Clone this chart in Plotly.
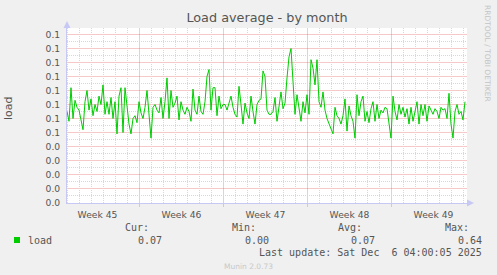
import pandas as pd
import plotly.graph_objects as go

# ---- data (load average, ~4h samples) ----
load_values = [
    0.065, 0.058, 0.082, 0.060, 0.073, 0.068, 0.066, 0.060, 0.052, 0.072,
    0.080, 0.066, 0.074, 0.062, 0.070, 0.065, 0.076, 0.070, 0.084, 0.063,
    0.072, 0.063, 0.075, 0.060, 0.072, 0.049, 0.076, 0.082, 0.050, 0.082,
    0.070, 0.056, 0.049, 0.060, 0.062, 0.057, 0.072, 0.064, 0.060, 0.068,
    0.080, 0.064, 0.046, 0.068, 0.070, 0.066, 0.064, 0.075, 0.060, 0.072,
    0.089, 0.060, 0.080, 0.068, 0.071, 0.076, 0.059, 0.072, 0.066, 0.063,
    0.068, 0.065, 0.058, 0.081, 0.066, 0.063, 0.076, 0.065, 0.063, 0.072,
    0.090, 0.095, 0.066, 0.082, 0.082, 0.062, 0.076, 0.067, 0.070, 0.070,
    0.066, 0.071, 0.076, 0.068, 0.063, 0.061, 0.083, 0.070, 0.056, 0.071,
    0.064, 0.060, 0.076, 0.065, 0.056, 0.070, 0.073, 0.074, 0.094, 0.090,
    0.066, 0.063, 0.063, 0.065, 0.075, 0.058, 0.070, 0.079, 0.067, 0.071,
    0.089, 0.104, 0.110, 0.084, 0.063, 0.077, 0.068, 0.058, 0.072, 0.064,
    0.077, 0.063, 0.102, 0.096, 0.084, 0.102, 0.072, 0.068, 0.079, 0.066,
    0.060, 0.056, 0.052, 0.049, 0.068, 0.062, 0.060, 0.056, 0.062, 0.074,
    0.051, 0.069, 0.062, 0.058, 0.046, 0.077, 0.062, 0.072, 0.076, 0.058,
    0.065, 0.057, 0.067, 0.072, 0.058, 0.070, 0.060, 0.066, 0.064, 0.068,
    0.067, 0.056, 0.046, 0.076, 0.065, 0.059, 0.070, 0.063, 0.068, 0.061,
    0.067, 0.056, 0.068, 0.058, 0.066, 0.072, 0.056, 0.070, 0.062, 0.070,
    0.058, 0.069, 0.066, 0.063, 0.067, 0.065, 0.060, 0.068, 0.066, 0.067,
    0.060, 0.078, 0.056, 0.046, 0.065, 0.070, 0.063, 0.065, 0.059, 0.072,
]
range_start = "2025-11-03 23:00"
range_end = "2025-12-07 07:00"
times = pd.date_range(range_start, "2025-12-07 03:00", periods=len(load_values))

y_tickvals = [0.00, 0.01, 0.02, 0.03, 0.04, 0.05, 0.06, 0.07, 0.08, 0.09, 0.10, 0.11, 0.12]
y_ticktext = ["0.0", "0.0", "0.0", "0.0", "0.0", "0.1", "0.1", "0.1", "0.1", "0.1", "0.1", "0.1", "0.1"]
y_range = [-0.5 / 1400, 0.125 - 0.5 / 1400]

series_name = "load"
stat_labels = ["Cur:", "Min:", "Avg:", "Max:"]
stat_values = ["0.07", "0.00", "0.07", "0.64"]
last_update = "Last update: Sat Dec\u00a0 6 04:00:05 2025"

# ---- layout geometry (pixels) ----
W, H = 497, 275
L, R, T, B = 67, 30, 28, 72
PW, PH = W - L - R, H - T - B


def px(x):
    return (x - L) / PW


def py(y):
    return (H - B - y) / PH


TEXT = "#555555"
AXIS = "#c8c8f4"
MAJ = "rgba(230,100,100,0.35)"
MIN = "#d8d8d8"
DASH = "1px,1px"
GREEN = "#00cc00"
MONO = "DejaVu Sans Mono"
SANS = "DejaVu Sans"

# minor grid positions: days that are not week starts, half steps on y
days = pd.date_range("2025-11-04", "2025-12-07", freq="D")
minor_days = [d for d in days if d.dayofweek != 0]
minor_y = [round(v + 0.005, 4) for v in y_tickvals]

# minor grid as dotted segments (drawn under the data line)
gx, gy = [], []
for d in minor_days:
    gx += [d, d, None]
    gy += [y_range[0], y_range[1], None]
for v in minor_y:
    gx += [range_start, range_end, None]
    gy += [v, v, None]

fig = go.Figure()
fig.add_trace(go.Scatter(x=gx, y=gy, mode="lines", connectgaps=False,
                         line=dict(color=MIN, width=1, dash=DASH),
                         showlegend=False, hoverinfo="skip", cliponaxis=True))
fig.add_trace(go.Scatter(x=times, y=load_values, mode="lines",
                         line=dict(color=GREEN, width=1), showlegend=False,
                         hoverinfo="skip"))

fig.update_layout(
    width=W, height=H,
    margin=dict(l=L, r=R, t=T, b=B),
    paper_bgcolor="#f0f0f0", plot_bgcolor="#ffffff",
    title=dict(text="Load average - by month", x=0.5, xref="paper", y=1 - 18 / H,
               yref="container", xanchor="center", yanchor="middle",
               font=dict(family=SANS, size=12.8, color=TEXT)),
    showlegend=False,
    xaxis=dict(
        type="date", range=[range_start, range_end],
        tick0="2025-11-03", dtick=7 * 86400000,
        ticklabelmode="period", tickformat="Week %V",
        tickfont=dict(family=SANS, size=9.2, color=TEXT),
        showgrid=True, gridcolor=MAJ, griddash="solid", gridwidth=1,
        ticks="outside", ticklen=3, tickcolor=MAJ,
        showline=True, linecolor=AXIS, linewidth=1, zeroline=False,
    ),
    yaxis=dict(
        range=y_range, tickmode="array", tickvals=y_tickvals, ticktext=y_ticktext,
        tickfont=dict(family=SANS, size=9.2, color=TEXT),
        showgrid=True, gridcolor=MAJ, griddash="solid", gridwidth=1,
        ticks="", ticklabelstandoff=4,
        showline=True, linecolor=AXIS, linewidth=1, zeroline=False,
    ),
)

ann = []
# y-axis title
ann.append(dict(text="load", x=px(8), y=py(108), xref="paper", yref="paper",
                textangle=-90, showarrow=False, xanchor="center", yanchor="middle",
                font=dict(family=SANS, size=11, color=TEXT)))
# watermark
ann.append(dict(text="RRDTOOL / TOBI OETIKER", x=px(488), y=py(53), xref="paper", yref="paper",
                textangle=90, showarrow=False, xanchor="center", yanchor="middle",
                font=dict(family=SANS, size=7.5, color="#c4c4c4")))
# legend
ann.append(dict(text=series_name, x=px(26), y=py(240), xref="paper", yref="paper",
                showarrow=False, xanchor="left", yanchor="middle",
                font=dict(family=MONO, size=10, color=TEXT)))
label_right = [150, 257, 363, 470]
value_right = [163, 270, 376, 483]
for lab, val, xl, xv in zip(stat_labels, stat_values, label_right, value_right):
    ann.append(dict(text=lab, x=px(xl + 1), y=py(227), xref="paper", yref="paper",
                    showarrow=False, xanchor="right", yanchor="middle",
                    font=dict(family=MONO, size=10, color=TEXT)))
    ann.append(dict(text=val, x=px(xv + 1), y=py(240), xref="paper", yref="paper",
                    showarrow=False, xanchor="right", yanchor="middle",
                    font=dict(family=MONO, size=10, color=TEXT)))
ann.append(dict(text=last_update, x=px(484), y=py(252), xref="paper", yref="paper",
                showarrow=False, xanchor="right", yanchor="middle",
                font=dict(family=MONO, size=10, color=TEXT)))
ann.append(dict(text="Munin 2.0.73", x=px(248), y=py(266), xref="paper", yref="paper",
                showarrow=False, xanchor="center", yanchor="middle",
                font=dict(family=SANS, size=7.5, color="#c8c8c8")))
fig.update_layout(annotations=ann)

shapes = []
# legend colour box
shapes.append(dict(type="rect", xref="paper", yref="paper",
                   x0=px(14), x1=px(20), y0=py(243), y1=py(237),
                   fillcolor=GREEN, line=dict(width=0)))
# axis arrows
shapes.append(dict(type="path", xref="paper", yref="paper",
                   path=f"M {px(63.5)},{py(28)} L {px(70.5)},{py(28)} L {px(67)},{py(21)} Z",
                   fillcolor=AXIS, line=dict(width=0)))
shapes.append(dict(type="path", xref="paper", yref="paper",
                   path=f"M {px(467)},{py(199.5)} L {px(467)},{py(206.5)} L {px(474)},{py(203)} Z",
                   fillcolor=AXIS, line=dict(width=0)))
fig.update_layout(shapes=shapes)

fig.write_html("out.html")
